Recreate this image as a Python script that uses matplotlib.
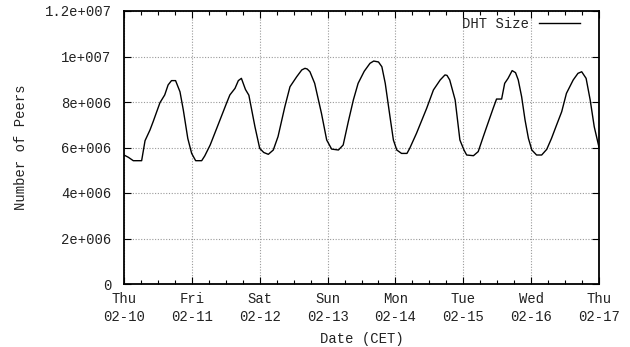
import matplotlib
matplotlib.use("Agg")
import matplotlib.pyplot as plt
from matplotlib.ticker import MultipleLocator

# Time offset in days since Thu 02-10 00:00 CET
day_offset = [0.00, 0.064, 0.137, 0.26, 0.31, 0.383, 0.43, 0.53, 0.60, 0.65, 0.70, 0.76,
              0.825, 0.874, 0.94, 0.997, 1.056, 1.145, 1.19, 1.27, 1.366, 1.51, 1.56, 1.636,
              1.685, 1.73, 1.79, 1.84, 1.93, 2.00, 2.06, 2.127, 2.20, 2.27, 2.37, 2.446,
              2.545, 2.62, 2.667, 2.70, 2.74, 2.81, 2.91, 2.987, 3.06, 3.16, 3.23, 3.305,
              3.38, 3.45, 3.54, 3.625, 3.68, 3.75, 3.80, 3.85, 3.92, 3.97, 4.02, 4.09,
              4.17, 4.21, 4.31, 4.46, 4.56, 4.66, 4.73, 4.76, 4.80, 4.88, 4.95, 5.01,
              5.05, 5.15, 5.22, 5.295, 5.345, 5.44, 5.49, 5.565, 5.61, 5.66, 5.72, 5.77,
              5.81, 5.86, 5.91, 5.96, 6.01, 6.08, 6.155, 6.23, 6.30, 6.375, 6.45, 6.52,
              6.62, 6.69, 6.745, 6.81, 6.87, 6.93, 7.00]
# DHT size in millions of peers
dht_size_m = [5.67, 5.57, 5.42, 5.42, 6.30, 6.77, 7.14, 7.97, 8.31, 8.75, 8.94, 8.94,
              8.45, 7.65, 6.40, 5.74, 5.42, 5.42, 5.63, 6.11, 6.84, 7.94, 8.31, 8.60,
              8.94, 9.04, 8.55, 8.30, 6.91, 5.96, 5.78, 5.70, 5.89, 6.48, 7.79, 8.67,
              9.11, 9.41, 9.48, 9.45, 9.33, 8.82, 7.50, 6.33, 5.93, 5.89, 6.11, 7.13,
              8.09, 8.82, 9.35, 9.70, 9.80, 9.76, 9.55, 8.82, 7.35, 6.33, 5.89, 5.74,
              5.74, 5.96, 6.62, 7.72, 8.53, 8.97, 9.19, 9.17, 8.97, 8.09, 6.33, 5.89,
              5.67, 5.64, 5.82, 6.48, 6.91, 7.72, 8.13, 8.13, 8.82, 9.04, 9.38, 9.29,
              8.97, 8.23, 7.21, 6.40, 5.89, 5.67, 5.67, 5.92, 6.40, 6.99, 7.57, 8.38,
              8.97, 9.26, 9.33, 9.04, 8.09, 6.91, 6.01]

tick_days = ["Thu", "Fri", "Sat", "Sun", "Mon", "Tue", "Wed", "Thu"]
tick_dates = ["02-10", "02-11", "02-12", "02-13", "02-14", "02-15", "02-16", "02-17"]
y_ticks = [0, 2e6, 4e6, 6e6, 8e6, 1e7, 1.2e7]
y_tick_labels = ["0", "2e+006", "4e+006", "6e+006", "8e+006", "1e+007", "1.2e+007"]

plt.rcParams['font.family'] = ['Liberation Mono', 'DejaVu Sans Mono']
plt.rcParams['font.size'] = 10
plt.rcParams['text.color'] = '#222222'
plt.rcParams['xtick.labelcolor'] = '#222222'
plt.rcParams['ytick.labelcolor'] = '#222222'
plt.rcParams['axes.labelcolor'] = '#222222'

fig = plt.figure(figsize=(6.3, 3.47), dpi=100)
ax = fig.add_axes([124/630, 1-284/347, (599-124)/630, (284-11)/347])

ax.plot(day_offset, [v * 1e6 for v in dht_size_m], color='black', lw=1.0, label='DHT Size')

ax.set_xlim(0, 7)
ax.set_ylim(0, 1.2e7)
ax.set_xticks(range(len(tick_days)))
ax.set_xticklabels([f"{d}\n{t}" for d, t in zip(tick_days, tick_dates)], linespacing=1.3)
ax.xaxis.set_minor_locator(MultipleLocator(0.25))
ax.set_yticks(y_ticks)
ax.set_yticklabels(y_tick_labels)

ax.grid(True, which='major', color='#9a9a9a', linestyle=(0, (1, 1.5)), lw=0.8)
ax.tick_params(which='both', direction='in', top=True, right=True, color='black')
ax.tick_params(which='major', length=5, width=0.8)
ax.tick_params(which='minor', length=3, width=0.8)
ax.tick_params(axis='y', which='major', pad=9)
ax.tick_params(axis='x', which='major', pad=6)
for s in ax.spines.values():
    s.set_linewidth(1.3)

ax.set_xlabel("Date (CET)", labelpad=6)
ax.set_ylabel("Number of Peers", labelpad=12)

ax.legend(loc='upper right', bbox_to_anchor=(1 - 9/475, 1 + 4/273), frameon=False,
          markerfirst=False, handlelength=3.0, handletextpad=0.7, borderaxespad=0.3)

fig.savefig("out.png", dpi=100)
